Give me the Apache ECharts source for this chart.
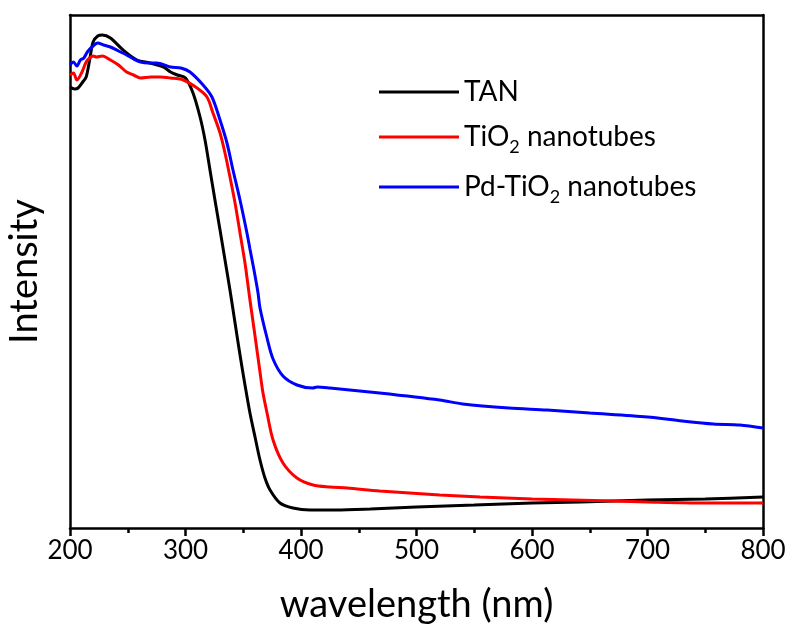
<!DOCTYPE html>
<html>
<head>
<meta charset="utf-8">
<script src="https://cdn.jsdelivr.net/npm/echarts@6/dist/echarts.min.js"></script>
<style>
  html, body { margin: 0; padding: 0; background: #fff; }
  #chart { width: 790px; height: 626px; }
</style>
</head>
<body>
<div id="chart"></div>
<script>
// wavelength (nm) / intensity (a.u.) pairs
const tanWl = [200, 204, 207, 211, 214, 217, 220, 224, 228, 235, 246, 258, 269, 281, 287, 293, 300, 306.5, 312.6, 316.9, 321.2, 325.5, 329.9, 334.2, 338.5, 342.9, 347.2, 351.5, 355.8, 360.2, 364.5, 368.8, 373.2, 381.8, 393, 407.8, 430, 460, 500, 550, 600, 642, 700, 750, 800];
const tanVal = [441, 439, 440, 446, 451, 468, 486, 492, 493, 490, 478, 468, 465, 461, 456, 453, 450, 435, 411, 388, 358, 328, 298, 268, 238, 205, 173, 143, 115, 91, 68, 50, 38, 25, 20, 18, 18, 19, 21, 23, 25, 26, 28, 29, 31];

const tio2Wl = [200, 203, 206, 210, 214, 217, 220, 223, 228, 235, 242, 249, 255, 261, 270, 278, 287, 298, 310, 318.6, 323.8, 329.9, 334.2, 338.5, 342.9, 347.2, 351.5, 355.8, 360.2, 364.5, 367.1, 370.6, 375.8, 384.4, 396.5, 410.4, 425, 440, 468, 520, 555, 600, 670, 700, 750, 800];
const tio2Val = [453, 455, 448, 455, 466, 470, 472, 471, 472, 468, 463, 456, 453, 450, 451, 451, 450, 448, 440, 431, 415, 395, 375, 351, 325, 295, 265, 228, 192, 156, 135, 115, 88, 65, 50, 43, 41, 40, 37, 33, 31, 29, 27, 26, 25, 25];

const pdWl = [200, 203, 206, 209, 212, 215, 219, 224, 229, 235, 242, 249, 255, 261, 268, 275, 287, 296, 303.9, 315.2, 322.9, 329.9, 335.9, 341.1, 347.2, 353.2, 355.8, 359.3, 362.8, 364.5, 370.6, 375.8, 384.4, 396.5, 410, 414, 425, 468, 520, 540, 580, 613, 650, 700, 730, 757, 780, 800];
const pdVal = [463, 466, 462, 468, 470, 476, 481, 485, 483, 481, 477, 473, 469, 466, 465, 465, 461, 460, 456, 443, 431, 408, 385, 358, 328, 295, 279, 258, 235, 220, 190, 169, 152, 143, 140, 141, 140, 135, 128, 124, 120, 118, 115, 111, 107, 104, 103, 100];

const seriesNames = ['TAN', 'TiO2 nanotubes', 'Pd-TiO2 nanotubes'];
const seriesColors = ['#000000', '#ff0000', '#0000ff'];

const fontName = 'Lato';

function pairs(xs, ys) {
  return xs.map((x, i) => [x, ys[i]]);
}

// TiO2 -> TiO with a subscript 2
function legendLabel(name) {
  const parts = name.split('TiO2');
  if (parts.length === 1) {
    return '{n|' + name + '}';
  }
  return '{n|' + parts[0] + 'TiO}{s|2}{n|' + parts[1] + '}';
}

function makeLine(name, color, data) {
  return {
    name,
    type: 'line',
    data,
    showSymbol: false,
    smooth: 0.3,
    lineStyle: { color, width: 3 },
    itemStyle: { color },
    z: 3,
  };
}

const chart = echarts.init(document.getElementById('chart'));

chart.setOption({
  animation: false,
  backgroundColor: '#fff',
  grid: { left: 70, right: 27, top: 15, bottom: 98, outerBoundsMode: 'none' },
  legend: {
    orient: 'vertical',
    left: 374,
    top: 73,
    itemWidth: 80,
    itemHeight: 3,
    itemGap: 12,
    icon: 'rect',
    data: seriesNames,
    formatter: legendLabel,
    textStyle: {
      fontFamily: fontName,
      fontSize: 28,
      color: '#000',
      rich: {
        n: { fontFamily: fontName, fontSize: 28, lineHeight: 32, color: '#000' },
        s: { fontFamily: fontName, fontSize: 18, lineHeight: 18, padding: [20, 0, 0, 0], color: '#000' },
      },
    },
  },
  xAxis: [
    {
      type: 'value',
      min: 200,
      max: 800,
      interval: 100,
      name: 'wavelength (nm)',
      nameLocation: 'middle',
      nameGap: 58,
      nameTextStyle: { fontFamily: fontName, fontSize: 38, color: '#000' },
      axisLine: { onZero: false, lineStyle: { color: '#000', width: 2.5 } },
      axisTick: { inside: false, length: 8, lineStyle: { color: '#000', width: 2.5 } },
      minorTick: { show: true, splitNumber: 2, length: 5, lineStyle: { color: '#000', width: 2.5 } },
      axisLabel: { margin: 10, fontFamily: fontName, fontSize: 26, color: '#000' },
      splitLine: { show: false },
    },
    {
      type: 'value',
      position: 'top',
      min: 200,
      max: 800,
      axisLine: { onZero: false, lineStyle: { color: '#000', width: 2.5 } },
      axisTick: { show: false },
      axisLabel: { show: false },
      splitLine: { show: false },
    },
  ],
  yAxis: [
    {
      type: 'value',
      min: 0,
      max: 513,
      name: 'Intensity',
      nameLocation: 'middle',
      nameGap: 26,
      nameTextStyle: { fontFamily: fontName, fontSize: 38, color: '#000' },
      axisLine: { show: true, onZero: false, lineStyle: { color: '#000', width: 2.5 } },
      axisTick: { show: false },
      axisLabel: { show: false },
      splitLine: { show: false },
    },
    {
      type: 'value',
      position: 'right',
      min: 0,
      max: 513,
      axisLine: { show: true, onZero: false, lineStyle: { color: '#000', width: 2.5 } },
      axisTick: { show: false },
      axisLabel: { show: false },
      splitLine: { show: false },
    },
  ],
  series: [
    makeLine(seriesNames[0], seriesColors[0], pairs(tanWl, tanVal)),
    makeLine(seriesNames[1], seriesColors[1], pairs(tio2Wl, tio2Val)),
    makeLine(seriesNames[2], seriesColors[2], pairs(pdWl, pdVal)),
  ],
});
</script>
</body>
</html>
